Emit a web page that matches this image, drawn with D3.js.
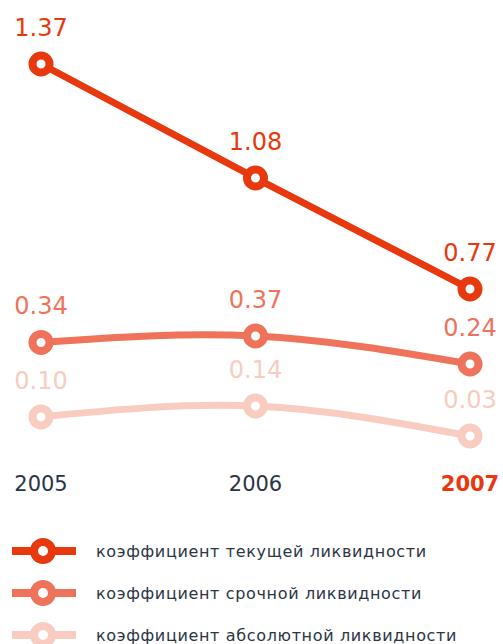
<!DOCTYPE html>
<html>
<head>
<meta charset="utf-8">
<script src="https://cdn.jsdelivr.net/npm/d3@7"></script>
<style>
  body { margin: 0; background: #fff; }
  text { font-family: "DejaVu Sans", sans-serif; }
</style>
</head>
<body>
<div id="chart"></div>
<script>
const years = ['2005', '2006', '2007']
const currentRatio = [1.37, 1.08, 0.77]
const quickRatio = [0.34, 0.37, 0.24]
const cashRatio = [0.10, 0.14, 0.03]
const seriesNames = [
    'коэффициент текущей ликвидности',
    'коэффициент срочной ликвидности',
    'коэффициент абсолютной ликвидности'
]

const width = 503
const height = 644
const colors = ['#e8380e', '#ef735a', '#f8ccc0']

const svg = d3.select('#chart')
    .append('svg')
    .attr('width', width)
    .attr('height', height)

const x = d3.scalePoint()
    .domain(years)
    .range([41, 470])

// each line has its own vertical band
const series = [
    { values: currentRatio, y: d3.scaleLinear().domain([0.77, 1.08, 1.37]).range([289, 178, 64]), curve: d3.curveLinear },
    { values: quickRatio, y: d3.scaleLinear().domain([0.24, 0.37]).range([364, 336]), curve: d3.curveNatural },
    { values: cashRatio, y: d3.scaleLinear().domain([0.03, 0.14]).range([436, 406]), curve: d3.curveNatural }
]

// draw lower series first so the main one sits on top
series.slice().reverse().forEach((s, k) => {
    const i = series.length - 1 - k
    const pts = s.values.map((v, j) => ({ year: years[j], value: v }))
    const g = svg.append('g')

    const line = d3.line()
        .x(d => x(d.year))
        .y(d => s.y(d.value))
        .curve(s.curve)

    g.append('path')
        .datum(pts)
        .attr('d', line)
        .attr('fill', 'none')
        .attr('stroke', colors[i])
        .attr('stroke-width', 7)

    g.selectAll('.dot')
        .data(pts)
        .enter()
        .append('circle')
        .attr('cx', d => x(d.year))
        .attr('cy', d => s.y(d.value))
        .attr('r', 8.5)
        .attr('fill', '#fff')
        .attr('stroke', colors[i])
        .attr('stroke-width', 8)

    g.selectAll('.label')
        .data(pts)
        .enter()
        .append('text')
        .attr('x', d => x(d.year))
        .attr('y', d => s.y(d.value) - 28)
        .attr('text-anchor', 'middle')
        .attr('fill', colors[i])
        .style('font-size', '24px')
        .text(d => d.value.toFixed(2))
})

// year axis
svg.selectAll('.year')
    .data(years)
    .enter()
    .append('text')
    .attr('x', d => x(d))
    .attr('y', 491)
    .attr('text-anchor', 'middle')
    .attr('fill', (d, i) => i === years.length - 1 ? '#e8380e' : '#2b3544')
    .style('font-size', '21px')
    .style('font-weight', (d, i) => i === years.length - 1 ? 'bold' : 'normal')
    .text(d => d)

// legend
const legend = svg.selectAll('.legend')
    .data(seriesNames)
    .enter()
    .append('g')
    .attr('transform', (d, i) => 'translate(0,' + (551 + i * 42) + ')')

legend.append('line')
    .attr('x1', 12)
    .attr('x2', 76)
    .attr('stroke', (d, i) => colors[i])
    .attr('stroke-width', 8)

legend.append('circle')
    .attr('cx', 43)
    .attr('r', 9)
    .attr('fill', '#fff')
    .attr('stroke', (d, i) => colors[i])
    .attr('stroke-width', 8)

legend.append('text')
    .attr('x', 96)
    .attr('y', 6)
    .attr('fill', '#2b3544')
    .style('font-size', '16px')
    .style('letter-spacing', '0.65px')
    .text(d => d)
</script>
</body>
</html>
